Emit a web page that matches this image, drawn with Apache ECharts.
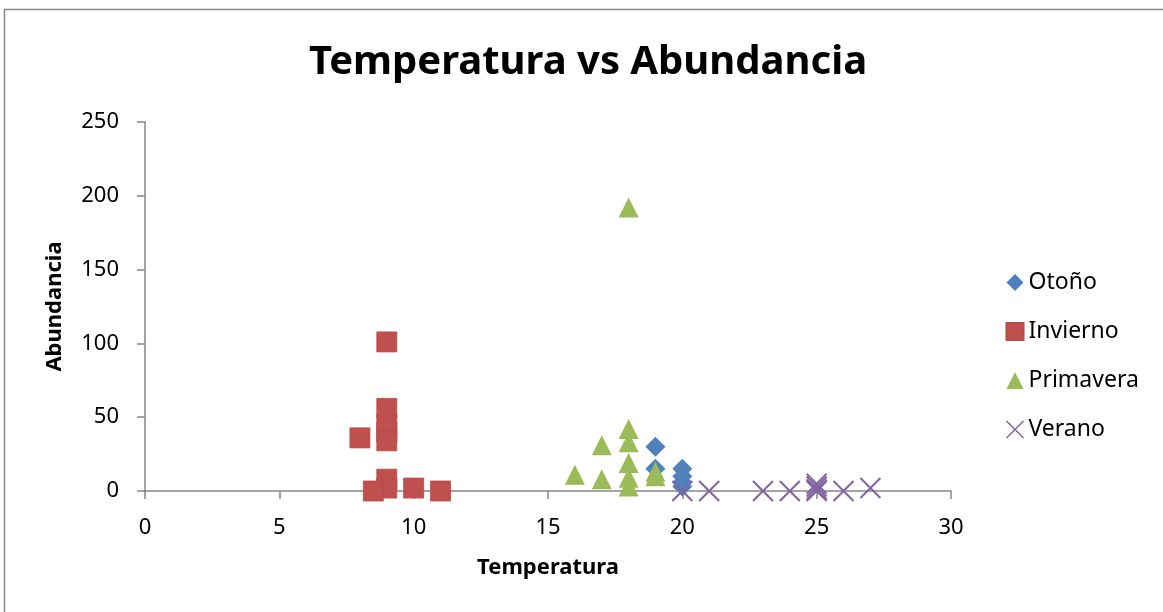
<!DOCTYPE html>
<html>
<head>
<meta charset="utf-8">
<script src="https://cdn.jsdelivr.net/npm/echarts@6/dist/echarts.min.js"></script>
<style>
html,body{margin:0;padding:0;background:#fff;}
#chart{width:1163px;height:612px;}
</style>
</head>
<body>
<div id="chart"></div>
<script>
const seriesNames = ['Otoño', 'Invierno', 'Primavera', 'Verano'];
const otono = [[19, 30], [19, 15], [20, 15], [20, 10], [20, 6], [20, 3]];
const invierno = [[9, 101], [9, 56], [9, 45], [9, 40], [9, 34], [8, 36], [9, 8], [9, 2], [8.5, 0], [10, 2], [11, 0]];
const primavera = [[18, 192], [18, 42], [18, 33], [18, 19], [18, 9], [18, 3], [17, 31], [17, 8], [16, 11], [19, 13], [19, 10]];
const verano = [[20, 0], [21, 0], [23, 0], [24, 0], [25, 0], [25, 1], [25, 3], [25, 5], [26, 0], [27, 2]];
const xTicks = [0, 5, 10, 15, 20, 25, 30];
const yTicks = [0, 50, 100, 150, 200, 250];

const FONT = 'Noto Sans';
const colors = ['#4F81BD', '#C0504D', '#9BBB59', '#8064A2'];
const xPath = 'path://M0,0L20,20M20,0L0,20';

const chart = echarts.init(document.getElementById('chart'));
chart.setOption({
  animation: false,
  title: {
    text: 'Temperatura vs Abundancia',
    left: 583, top: 38, textAlign: 'center',
    textStyle: { fontFamily: FONT, fontWeight: 'bold', fontSize: 40, color: '#000' }
  },
  graphic: [{
    type: 'rect', shape: { x: 4.5, y: 9.5, width: 1170, height: 620 },
    style: { fill: 'none', stroke: '#868686', lineWidth: 1.5 }, silent: true
  }],
  legend: {
    orient: 'vertical', left: 1004, top: 271, padding: 0,
    itemWidth: 17, itemHeight: 17, itemGap: 26,
    textStyle: { fontFamily: FONT, fontSize: 23, color: '#000', lineHeight: 22 },
    data: [
      { name: 'Otoño', icon: 'diamond' },
      { name: 'Invierno', icon: 'rect' },
      { name: 'Primavera', icon: 'triangle' },
      { name: 'Verano', icon: xPath, itemStyle: { color: 'none', borderColor: colors[3], borderWidth: 1.5 } }
    ]
  },
  grid: { left: 145, right: 212, top: 122, bottom: 121 },
  xAxis: {
    type: 'value', min: xTicks[0], max: xTicks[xTicks.length - 1], interval: 5,
    name: 'Temperatura', nameLocation: 'middle', nameGap: 66,
    nameTextStyle: { fontFamily: FONT, fontWeight: 'bold', fontSize: 22, color: '#000' },
    axisLine: { show: true, lineStyle: { color: '#868686', width: 1.5 } },
    axisTick: { show: true, length: 8, lineStyle: { color: '#868686', width: 1.5 } },
    axisLabel: { fontFamily: FONT, fontSize: 22, color: '#000', margin: 26 },
    splitLine: { show: false }
  },
  yAxis: {
    type: 'value', min: yTicks[0], max: yTicks[yTicks.length - 1], interval: 50,
    name: 'Abundancia', nameLocation: 'middle', nameGap: 79, nameRotate: 90,
    nameTextStyle: { fontFamily: FONT, fontWeight: 'bold', fontSize: 22, color: '#000' },
    axisLine: { show: true, lineStyle: { color: '#868686', width: 1.5 } },
    axisTick: { show: true, length: 8, lineStyle: { color: '#868686', width: 1.5 } },
    axisLabel: { fontFamily: FONT, fontSize: 22, color: '#000', margin: 26 },
    splitLine: { show: false }
  },
  series: [
    { name: seriesNames[0], type: 'scatter', data: otono, symbol: 'diamond', symbolSize: 20,
      itemStyle: { color: colors[0], opacity: 1 } },
    { name: seriesNames[1], type: 'scatter', data: invierno, symbol: 'rect', symbolSize: 20,
      itemStyle: { color: colors[1], opacity: 1, borderColor: '#B84A47', borderWidth: 0.8 } },
    { name: seriesNames[2], type: 'scatter', data: primavera, symbol: 'triangle', symbolSize: 20,
      itemStyle: { color: colors[2], opacity: 1 } },
    { name: seriesNames[3], type: 'scatter', data: verano, symbol: xPath, symbolSize: 20,
      itemStyle: { color: 'none', borderColor: colors[3], borderWidth: 2, opacity: 1 } }
  ]
});
</script>
</body>
</html>
